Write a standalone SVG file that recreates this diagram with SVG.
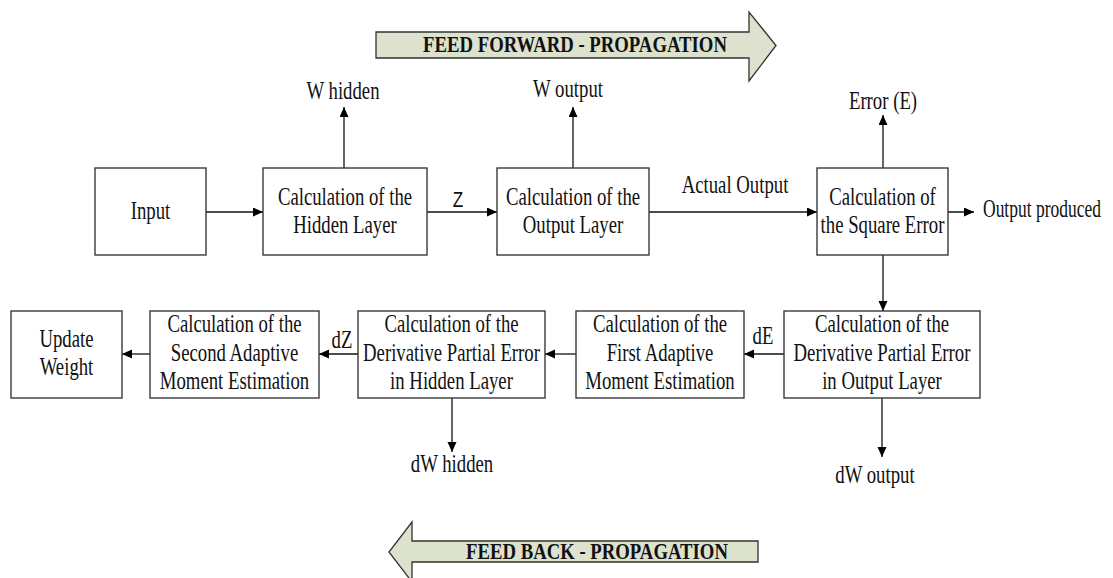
<svg xmlns="http://www.w3.org/2000/svg" width="1113" height="578" viewBox="0 0 1113 578">
<style>
.box{fill:#fff;stroke:#3a3a3a;stroke-width:1.4}
.t{font-family:"Liberation Serif","Times New Roman",serif;font-size:25px;fill:#111;text-anchor:middle}
.lbl{font-family:"Liberation Serif","Times New Roman",serif;font-size:25px;fill:#111}
.z{font-family:"Liberation Sans",Arial,sans-serif;font-size:22px;fill:#111;text-anchor:middle}
.big{fill:#dde2cf;stroke:#333;stroke-width:1.3}
.bt{font-family:"Liberation Serif","Times New Roman",serif;font-size:24px;font-weight:bold;fill:#111;text-anchor:middle}
.c{stroke:#111;stroke-width:1.3;fill:none;marker-end:url(#ah)}
</style>
<defs>
<marker id="ah" markerUnits="userSpaceOnUse" markerWidth="11" markerHeight="10" refX="10" refY="4.5" orient="auto">
<path d="M0,0 L10,4.5 L0,9 z" fill="#000"/>
</marker>
</defs>

<g id="feed-forward">
<path class="big" d="M376,32 H749 V12 L776,45.5 L749,81 V58 H376 Z"/>
<text class="bt" transform="translate(575 0) scale(0.78 1)"><tspan x="0" y="52">FEED FORWARD - PROPAGATION</tspan></text>
</g>
<g id="feed-back">
<path class="big" d="M758,541 H412 V522 L389,552 L412,582 V562 H758 Z"/>
<text class="bt" transform="translate(597 0) scale(0.78 1)"><tspan x="0" y="559">FEED BACK - PROPAGATION</tspan></text>
</g>

<g id="connectors">
<line class="c" x1="206" y1="212" x2="263" y2="212"/>
<line class="c" x1="427" y1="212" x2="497" y2="212"/>
<line class="c" x1="649" y1="212" x2="817" y2="212"/>
<line class="c" x1="937" y1="212" x2="974" y2="212"/>
<line class="c" x1="883" y1="255" x2="883" y2="311"/>
<line class="c" x1="344" y1="168" x2="344" y2="107"/>
<line class="c" x1="573" y1="168" x2="573" y2="107"/>
<line class="c" x1="883" y1="168" x2="883" y2="115"/>
<line class="c" x1="784" y1="354" x2="744" y2="354"/>
<line class="c" x1="576" y1="354" x2="545" y2="354"/>
<line class="c" x1="358" y1="354" x2="319" y2="354"/>
<line class="c" x1="150" y1="354" x2="122" y2="354"/>
<line class="c" x1="452" y1="398" x2="452" y2="452"/>
<line class="c" x1="882" y1="397" x2="882" y2="457"/>
<text class="z" transform="translate(458 0) scale(0.78 1)"><tspan x="0" y="207">Z</tspan></text>
<text class="t" transform="translate(735 0) scale(0.75 1)"><tspan x="0" y="193">Actual Output</tspan></text>
<text class="t" transform="translate(763 0) scale(0.75 1)"><tspan x="0" y="344">dE</tspan></text>
<text class="t" transform="translate(342 0) scale(0.75 1)"><tspan x="0" y="348">dZ</tspan></text>
<text class="t" transform="translate(343 0) scale(0.75 1)"><tspan x="0" y="99">W hidden</tspan></text>
<text class="t" transform="translate(568 0) scale(0.75 1)"><tspan x="0" y="97">W output</tspan></text>
<text class="t" transform="translate(883 0) scale(0.75 1)"><tspan x="0" y="109">Error (E)</tspan></text>
<text class="lbl" transform="translate(983 0) scale(0.7 1)"><tspan x="0" y="217">Output produced</tspan></text>
<text class="t" transform="translate(452 0) scale(0.75 1)"><tspan x="0" y="472">dW hidden</tspan></text>
<text class="t" transform="translate(875 0) scale(0.75 1)"><tspan x="0" y="483">dW output</tspan></text>
</g>

<g id="input">
<rect class="box" x="95" y="168" width="111" height="87"/>
<text class="t" transform="translate(150.5 0) scale(0.75 1)"><tspan x="0" y="219">Input</tspan></text>
</g>
<g id="hidden-layer">
<rect class="box" x="263" y="168" width="164" height="87"/>
<text class="t" transform="translate(345 0) scale(0.75 1)"><tspan x="0" y="205">Calculation of the</tspan><tspan x="0" y="233">Hidden Layer</tspan></text>
</g>
<g id="output-layer">
<rect class="box" x="497" y="168" width="152" height="87"/>
<text class="t" transform="translate(573 0) scale(0.75 1)"><tspan x="0" y="205">Calculation of the</tspan><tspan x="0" y="233">Output Layer</tspan></text>
</g>
<g id="square-error">
<rect class="box" x="817" y="168" width="131" height="87"/>
<text class="t" transform="translate(882.5 0) scale(0.75 1)"><tspan x="0" y="205">Calculation of</tspan><tspan x="0" y="233">the Square Error</tspan></text>
</g>
<g id="deriv-output">
<rect class="box" x="784" y="311" width="196" height="87"/>
<text class="t" transform="translate(882 0) scale(0.75 1)"><tspan x="0" y="332">Calculation of the</tspan><tspan x="0" y="361">Derivative Partial Error</tspan><tspan x="0" y="389">in Output Layer</tspan></text>
</g>
<g id="first-adaptive">
<rect class="box" x="576" y="311" width="168" height="87"/>
<text class="t" transform="translate(660 0) scale(0.75 1)"><tspan x="0" y="332">Calculation of the</tspan><tspan x="0" y="361">First Adaptive</tspan><tspan x="0" y="389">Moment Estimation</tspan></text>
</g>
<g id="deriv-hidden">
<rect class="box" x="358" y="311" width="187" height="87"/>
<text class="t" transform="translate(451.5 0) scale(0.75 1)"><tspan x="0" y="332">Calculation of the</tspan><tspan x="0" y="361">Derivative Partial Error</tspan><tspan x="0" y="389">in Hidden Layer</tspan></text>
</g>
<g id="second-adaptive">
<rect class="box" x="150" y="311" width="169" height="87"/>
<text class="t" transform="translate(234.5 0) scale(0.75 1)"><tspan x="0" y="332">Calculation of the</tspan><tspan x="0" y="361">Second Adaptive</tspan><tspan x="0" y="389">Moment Estimation</tspan></text>
</g>
<g id="update-weight">
<rect class="box" x="11" y="311" width="111" height="87"/>
<text class="t" transform="translate(66.5 0) scale(0.75 1)"><tspan x="0" y="347">Update</tspan><tspan x="0" y="375">Weight</tspan></text>
</g>
</svg>
